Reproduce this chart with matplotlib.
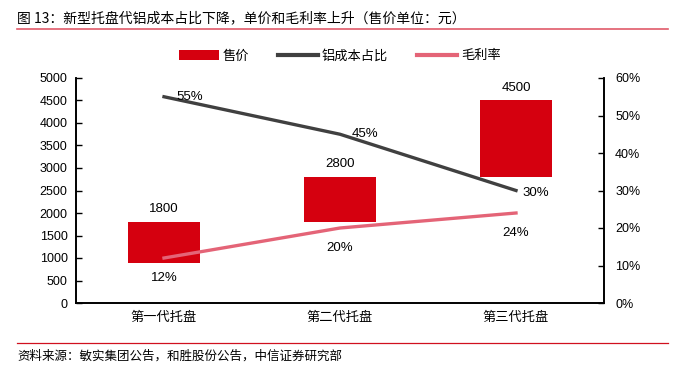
import matplotlib
matplotlib.use("Agg")
import matplotlib.pyplot as plt
import numpy as np

plt.rcParams['font.family'] = ['Liberation Sans', 'Noto Sans CJK SC', 'DejaVu Sans']

categories = ['第一代托盘', '第二代托盘', '第三代托盘']
price_high = [1800, 2800, 4500]
price_low = [900, 1800, 2800]
al_cost_ratio = [0.55, 0.45, 0.30]
gross_margin = [0.12, 0.20, 0.24]
left_ticks = [0, 500, 1000, 1500, 2000, 2500, 3000, 3500, 4000, 4500, 5000]
right_ticks = [0, 0.1, 0.2, 0.3, 0.4, 0.5, 0.6]

RED = '#D5000F'
DARK = '#404040'
PINK = '#E46477'

W, H = 674, 371
fig = plt.figure(figsize=(W/100, H/100), dpi=100)
ax = fig.add_axes([76/W, (H-303)/H, (604-76)/W, (303-78)/H])
ax2 = ax.twinx()

x = np.arange(len(categories)) + 0.5
heights = [h - l for h, l in zip(price_high, price_low)]
bars = ax.bar(x, heights, bottom=price_low, width=0.41, color=RED, label='售价', zorder=2)
ax.set_xlim(0, 3)
ax.set_ylim(0, 5000)
ax.set_yticks(left_ticks)
ax.set_yticklabels([str(t) for t in left_ticks], fontsize=9)
ax.set_xticks(x)
ax.set_xticklabels(categories, fontsize=9.5, family=['Noto Sans CJK SC'])
ax.tick_params(axis='x', length=0, pad=6)
ax.tick_params(axis='y', direction='in', length=4, width=1, pad=6)
for xi, hv in zip(x, price_high):
    ax.text(xi, hv + 150, str(hv), ha='center', va='bottom', fontsize=9.5)

l1, = ax2.plot(x, al_cost_ratio, color=DARK, lw=2.4, label='铝成本占比', zorder=3)
l2, = ax2.plot(x, gross_margin, color=PINK, lw=2.4, label='毛利率', zorder=3)
ax2.set_ylim(0, 0.6)
ax2.set_yticks(right_ticks)
ax2.set_yticklabels([f'{int(round(t*100))}%' for t in right_ticks], fontsize=9)
ax2.tick_params(axis='y', direction='in', length=4, width=1, pad=8)

# labels for lines
offs_al = [(26, 0), (25, 0), (20, -2)]
for xi, v, (dx, dy) in zip(x, al_cost_ratio, offs_al):
    ax2.annotate(f'{int(round(v*100))}%', (xi, v), xytext=(dx, dy), textcoords='offset pixels',
                 ha='center', va='center', fontsize=9.5)
offs_gm = [(0, -20), (0, -20), (0, -20)]
for xi, v, (dx, dy) in zip(x, gross_margin, offs_gm):
    ax2.annotate(f'{int(round(v*100))}%', (xi, v), xytext=(dx, dy), textcoords='offset pixels',
                 ha='center', va='center', fontsize=9.5)

for a in (ax, ax2):
    a.spines['top'].set_visible(False)
    for s in ('left', 'right', 'bottom'):
        a.spines[s].set_color('black')
        a.spines[s].set_linewidth(1.2)
ax.set_facecolor('none')

leg = fig.legend(handles=[bars, l1, l2], labels=['售价', '铝成本占比', '毛利率'],
                 loc='center', bbox_to_anchor=(340/W, (H-56)/H), ncol=3, frameon=False,
                 prop={'family': ['Noto Sans CJK SC'], 'size': 9.5},
                 handlelength=3.0, handletextpad=0.3, columnspacing=2.2)
for h in leg.legend_handles[1:]:
    h.set_linewidth(3)

fig.text(17/W, (H-18)/H, '图 13：新型托盘代铝成本占比下降，单价和毛利率上升（售价单位：元）',
         ha='left', va='center', fontsize=10, family=['Noto Sans CJK SC'])
fig.add_artist(plt.Line2D([17/W, 668/W], [(H-29)/H, (H-29)/H], color='#E05A6A', lw=1.2))
fig.add_artist(plt.Line2D([17/W, 668/W], [(H-343)/H, (H-343)/H], color='#D0101F', lw=0.9))
fig.text(17/W, (H-356)/H, '资料来源：敏实集团公告，和胜股份公告，中信证券研究部',
         ha='left', va='center', fontsize=9, family=['Noto Sans CJK SC'])

fig.savefig('out.png', dpi=100)
